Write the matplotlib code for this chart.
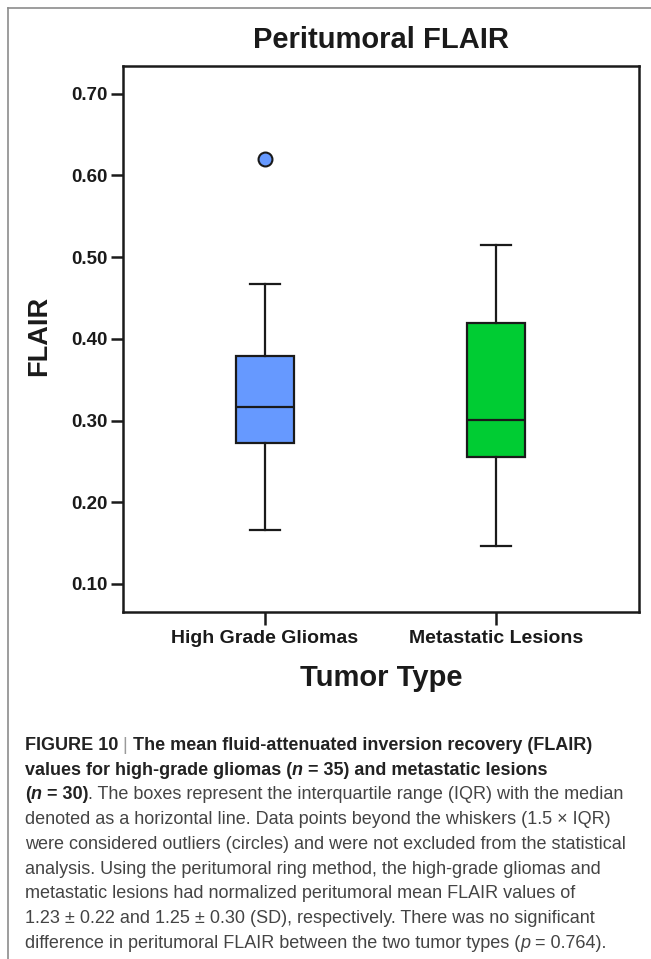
import matplotlib
matplotlib.use("Agg")
import matplotlib.pyplot as plt
from matplotlib import font_manager
from matplotlib.lines import Line2D

# data
groups = ["High Grade Gliomas", "Metastatic Lesions"]
whisker_low = [0.166, 0.146]
q1 = [0.273, 0.255]
median = [0.317, 0.301]
q3 = [0.379, 0.419]
whisker_high = [0.467, 0.515]
outliers = [[0.620], []]
box_colors = ["#6699FF", "#00CC33"]
y_ticks = [0.10, 0.20, 0.30, 0.40, 0.50, 0.60, 0.70]

W, H = 651, 959


def pick_font(names):
    for n in names:
        try:
            font_manager.findfont(n, fallback_to_default=False)
            return n
        except Exception:
            continue
    return "DejaVu Sans"


narrow = pick_font(["Liberation Sans Narrow", "Arial Narrow", "Liberation Sans"])
plt.rcParams["font.family"] = [narrow, "DejaVu Sans"]

fig = plt.figure(figsize=(W / 100, H / 100), dpi=100)
ax = fig.add_axes([123 / W, 1 - 612 / H, (639 - 123) / W, (612 - 66) / H])

stats = []
for i, g in enumerate(groups):
    stats.append(dict(label=g, whislo=whisker_low[i], q1=q1[i], med=median[i],
                      q3=q3[i], whishi=whisker_high[i], fliers=outliers[i]))

bp = ax.bxp(stats, positions=[1, 2], widths=0.25, capwidths=0.13,
            patch_artist=True, showfliers=True,
            boxprops=dict(edgecolor="#1a1a1a", linewidth=1.6),
            medianprops=dict(color="#1a1a1a", linewidth=1.6),
            whiskerprops=dict(color="#1a1a1a", linewidth=1.6),
            capprops=dict(color="#1a1a1a", linewidth=1.6),
            flierprops=dict(marker="o", markersize=10, markeredgecolor="#1a1a1a",
                            markeredgewidth=1.5, markerfacecolor=box_colors[0]))
for patch, c in zip(bp["boxes"], box_colors):
    patch.set_facecolor(c)

ax.set_xlim(0.385, 2.62)
ax.set_ylim(0.0657, 0.734)
ax.set_yticks(y_ticks)
ax.set_yticklabels([f"{v:.2f}" for v in y_ticks])
ax.set_xticks([1, 2])
ax.set_xticklabels(groups)
for s in ax.spines.values():
    s.set_linewidth(1.8)
    s.set_color("#1a1a1a")
ax.tick_params(axis="y", length=9, width=1.8, pad=2, labelsize=13.5, colors="#1a1a1a")
ax.tick_params(axis="x", length=9, width=1.8, pad=4, labelsize=14, colors="#1a1a1a")
for lab in ax.get_xticklabels() + ax.get_yticklabels():
    lab.set_fontweight("bold")

fig.text(381 / W, 1 - 40 / H, "Peritumoral FLAIR", ha="center", va="center",
         fontsize=21, fontweight="bold", color="#1a1a1a")
fig.text(39 / W, 1 - 336 / H, "FLAIR", rotation=90, ha="center", va="center",
         fontsize=19.5, fontweight="bold", color="#1a1a1a")
fig.text(381 / W, 1 - 678 / H, "Tumor Type", ha="center", va="center",
         fontsize=21, fontweight="bold", color="#1a1a1a")

# thin gray frame of the figure panel
fig.add_artist(Line2D([8 / W, 1], [1 - 8 / H, 1 - 8 / H], color="#8c8c8c", linewidth=1.2))
fig.add_artist(Line2D([8 / W, 8 / W], [0, 1 - 8 / H], color="#8c8c8c", linewidth=1.2))

# caption, drawn piece by piece so bold/italic can mix on a line
B, R = "bold", "normal"
cap_lines = [
    [("FIGURE 10", B, "normal"), (" | ", "light", "normal"),
     ("The mean fluid-attenuated inversion recovery (FLAIR)", B, "normal")],
    [("values for high-grade gliomas (", B, "normal"), ("n", B, "italic"),
     (" = 35) and metastatic lesions", B, "normal")],
    [("(", B, "normal"), ("n", B, "italic"), (" = 30)", B, "normal"),
     (". The boxes represent the interquartile range (IQR) with the median", R, "normal")],
    [("denoted as a horizontal line. Data points beyond the whiskers (1.5 \u00d7 IQR)", R, "normal")],
    [("were considered outliers (circles) and were not excluded from the statistical", R, "normal")],
    [("analysis. Using the peritumoral ring method, the high-grade gliomas and", R, "normal")],
    [("metastatic lesions had normalized peritumoral mean FLAIR values of", R, "normal")],
    [("1.23 \u00b1 0.22 and 1.25 \u00b1 0.30 (SD), respectively. There was no significant", R, "normal")],
    [("difference in peritumoral FLAIR between the two tumor types (", R, "normal"),
     ("p", R, "italic"), (" = 0.764).", R, "normal")],
]

renderer = fig.canvas.get_renderer()
cap_size = 13


def text_width(txt, weight, style):
    w = "bold" if weight == B else "normal"
    t1 = fig.text(0, 0, "|" + txt + "|", fontsize=cap_size, fontweight=w, fontstyle=style)
    t2 = fig.text(0, 0, "||", fontsize=cap_size, fontweight=w, fontstyle=style)
    wd = t1.get_window_extent(renderer).width - t2.get_window_extent(renderer).width
    t1.remove()
    t2.remove()
    return wd


y0, pitch = 750, 24.7
for i, parts in enumerate(cap_lines):
    x = 25
    y = y0 + i * pitch
    for txt, weight, style in parts:
        col = "#222222" if weight == B else ("#9a9a9a" if weight == "light" else "#444444")
        w = "bold" if weight == B else "normal"
        fig.text(x / W, 1 - y / H, txt, fontsize=cap_size, fontweight=w, fontstyle=style,
                 color=col, ha="left", va="baseline")
        x += text_width(txt, weight, style)

fig.savefig("out.png", dpi=100)
